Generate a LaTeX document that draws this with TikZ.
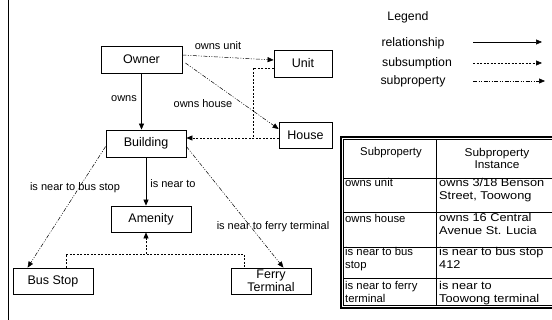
\documentclass[tikz,border=0pt]{standalone}
\usepackage{fontspec}
\setmainfont{Liberation Sans}
\usetikzlibrary{arrows.meta,calc}
\begin{document}
\begin{tikzpicture}[x=1pt,y=-1pt,
  box/.style={draw,line width=0.8pt,inner sep=0pt,font=\fontsize{12.5}{12.5}\selectfont,align=center},
  lbl/.style={inner sep=0pt,font=\fontsize{11}{13}\selectfont},
  leg/.style={inner sep=0pt,font=\fontsize{12.3}{14}\selectfont},
  tcell/.style={inner sep=0pt,anchor=base west,align=left,font=\fontsize{11.3}{13}\selectfont},
  tcellr/.style={tcell,xscale=1.13,transform shape},
  tiphead/.style={-{Triangle[length=6pt,width=5pt]}},
  rel/.style={tiphead,line width=0.6pt},
  subsum/.style={tiphead,line width=0.6pt,dash pattern=on 2pt off 1.5pt},
  subprop/.style={tiphead,line width=0.5pt,dash pattern=on 4pt off 1.5pt on 1pt off 1.5pt on 1pt off 1.5pt},
  plain/.style={line width=0.6pt,dash pattern=on 2pt off 1.5pt}
]
\clip (0,0) rectangle (552,320);
% left frame line
\draw[line width=1pt] (8,0) -- (8,320);

% boxes
\node[box,minimum width=81pt,minimum height=27pt] (owner) at (141.5,59.5) {Owner};
\node[box,minimum width=58pt,minimum height=27pt] (unit) at (303,63.5) {Unit};
\node[box,minimum width=53pt,minimum height=26pt] (house) at (305.5,135) {House};
\node[box,minimum width=80pt,minimum height=27pt] (building) at (146,143.5) {Building};
\node[box,minimum width=80pt,minimum height=26pt] (amenity) at (151,219) {Amenity};
\node[box,minimum width=80pt,minimum height=26pt] (busstop) at (53,281) {Bus Stop};
\node[box,minimum width=80pt,minimum height=26pt] (ferry) at (271,281) {Ferry\\Terminal};

% labels
\node[lbl] (lowns) at (124,99) {owns};
\node[lbl] (lownsunit) at (218,46) {owns unit};
\node[lbl] (lownshouse) at (203,104) {owns house};
\node[lbl] (lnear) at (173,184) {is near to};
\node[lbl] (lnearbus) at (75,188) {is near to bus stop};
\node[lbl] (lnearferry) at (273,227) {is near to ferry terminal};

% relationships
\draw[rel] (owner.south) -- (owner.south |- building.north);
\draw[rel] (building.south) -- (building.south |- amenity.north);

% subproperties
\draw[subprop] ([yshift=4.5pt]owner.east) -- ([yshift=3.5pt]unit.west);
\draw[subprop] ([yshift=-3.5pt,xshift=3pt]owner.east) -- ([yshift=6pt]house.west);
\draw[subprop] ([yshift=-3pt]building.west) -- ([xshift=15pt]busstop.north west);
\draw[subprop] ([yshift=-3pt]building.east) -- ([xshift=-28pt]ferry.north east);

% subsumptions
\coordinate (j1) at (253,138);
\draw[subsum] ([yshift=-3pt]house.west) -- ([yshift=5.5pt]building.east);
\draw[plain] ([yshift=-4.5pt]unit.west) -| (j1);
\coordinate (j2) at (146,254);
\draw[plain] ([xshift=13pt]busstop.north) |- (j2) -| ([xshift=-27pt]ferry.north);
\draw[subsum] (j2) -- (j2 |- amenity.south);

% legend
\node[leg] (legend) at (408,17) {Legend};
\node[leg] (lrel) at (413,43) {relationship};
\node[leg] (lsub) at (417,63) {subsumption};
\node[leg] (lprop) at (413,81) {subproperty};
\coordinate (r1) at (473,42); \coordinate (r2) at (542,42);
\coordinate (s1) at (473,63); \coordinate (s2) at (542,63);
\coordinate (p1) at (473,81); \coordinate (p2) at (545,81);
\draw[rel] (r1) -- (r2);
\draw[subsum] (s1) -- (s2);
\draw[subprop] (p1) -- (p2);

% table
\draw[line width=1.1pt] (341,137) rectangle (562,308);
\draw[line width=0.5pt] (343.5,139.5) rectangle (559.5,305.5);
\draw[line width=0.6pt] (436,139.5) -- (436,305.5);
\foreach \yy in {178,212,247,278} \draw[line width=0.6pt] (343.5,\yy) -- (559.5,\yy);

\node[inner sep=0pt,font=\fontsize{11.3}{12.5}\selectfont] (h1) at (391,152.5) {Subproperty};
\node[inner sep=0pt,font=\fontsize{11.3}{12}\selectfont,align=center,xscale=1.05,transform shape] (h2) at (497,158) {Subproperty\\Instance};

\node[tcell] (a1) at (345,186.5) {owns unit};
\node[tcellr] (b1) at (439,199.5) {owns 3/18 Benson\\Street, Toowong};
\node[tcell] (a2) at (345,222.5) {owns house};
\node[tcellr] (b2) at (439,235) {owns 16 Central\\Avenue St. Lucia};
\node[tcell] (a3) at (345,269) {is near to bus\\stop};
\node[tcellr] (b3) at (439,269) {is near to bus stop\\412};
\node[tcell] (a4) at (345,303) {is near to ferry\\terminal};
\node[tcellr] (b4) at (439,303) {is near to\\Toowong terminal};
\end{tikzpicture}
\end{document}
